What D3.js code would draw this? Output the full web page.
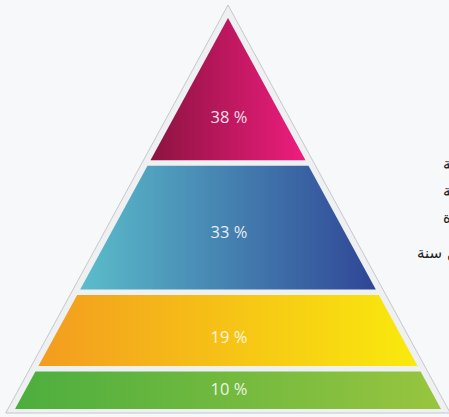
<!DOCTYPE html>
<html>
<head>
<meta charset="utf-8">
<script src="https://cdn.jsdelivr.net/npm/d3@7"></script>
<style>
  html, body { margin: 0; padding: 0; background: #f6f8fa; }
  svg { display: block; }
</style>
</head>
<body>
<svg id="chart"></svg>
<script>
const width = 449,
    height = 417;

// pyramid levels, top to bottom
const levels = ["l1", "l2", "l3", "l4"];
const values = [38, 33, 19, 10];
const valueLabels = ["38 %", "33 %", "19 %", "10 %"];
const gradientStops = [
    ["#8c1340", "#ee1d7e"],
    ["#5bbdcb", "#2f4696"],
    ["#f39c1f", "#f9ea0d"],
    ["#4cae3e", "#98c53f"],
];
// legend labels at the right, cut off by the edge of the picture
const legendLabels = ["خبرة عالية", "خبرة متوسطة", "خبرة محدودة", "أقل من سنة"];

const apex = { x: 228, y: 18 };
const baseY = 409;
const halfBase = 213;
const gap = 5.5;
const outerPad = 13;
// where the label sits inside each band (0 = top, 1 = bottom)
const labelPos = [0.70, 0.54, 0.59, 0.47];

const svg = d3.select("svg#chart")
    .attr("width", width)
    .attr("height", height);

const defs = svg.append("defs");
gradientStops.forEach((s, i) => {
    const grad = defs.append("linearGradient")
        .attr("id", "grad" + i)
        .attr("x1", "0%").attr("x2", "100%")
        .attr("y1", "0%").attr("y2", "0%");
    grad.append("stop").attr("offset", "0%").attr("stop-color", s[0]);
    grad.append("stop").attr("offset", "100%").attr("stop-color", s[1]);
});

// half width of the pyramid at a given y
const slope = halfBase / (baseY - apex.y);
const halfAt = y => (y - apex.y) * slope;

// outer light triangle with a thin grey edge
const oTop = apex.y - outerPad;
const oBot = baseY + 4;
const oHalf = (oBot - oTop) * slope;
svg.append("path")
    .attr("d", `M${apex.x},${oTop}L${apex.x + oHalf},${oBot}L${apex.x - oHalf},${oBot}Z`)
    .attr("fill", "#eef0f2")
    .attr("stroke", "#b9bcc0")
    .attr("stroke-width", 0.8);

// vertical scale: cumulative value -> y, leaving room for the gaps
const total = d3.sum(values);
const y = d3.scaleLinear()
    .domain([0, total])
    .range([apex.y, baseY - gap * (values.length - 1)]);

let cum = 0;
const bands = values.map((v, i) => {
    const top = y(cum) + gap * i;
    const bottom = y(cum + v) + gap * i;
    cum += v;
    return { i, v, top, bottom, label: valueLabels[i], level: levels[i] };
});

const g = svg.append("g");
const band = g.selectAll("g")
    .data(bands)
    .enter()
    .append("g")
    .classed("level", true);

band.append("path")
    .attr("d", d => {
        const ht = halfAt(d.top), hb = halfAt(d.bottom);
        return `M${apex.x - ht},${d.top}L${apex.x + ht},${d.top}L${apex.x + hb},${d.bottom}L${apex.x - hb},${d.bottom}Z`;
    })
    .attr("fill", d => `url(#grad${d.i})`);

band.append("text")
    .attr("x", apex.x + 1)
    .attr("y", d => d.top + (d.bottom - d.top) * labelPos[d.i])
    .attr("dy", "0.35em")
    .attr("text-anchor", "middle")
    .attr("font-family", "'Open Sans', sans-serif")
    .attr("font-size", 16.5)
    .attr("fill", "#ffffff")
    .attr("fill-opacity", 0.88)
    .text(d => d.label);

// legend text on the right (left end of each label at x)
const legendY = [169, 196, 223, 258];
const legendX = [443, 443, 443, 417];
svg.append("g")
    .selectAll("text")
    .data(legendLabels)
    .enter()
    .append("text")
    .attr("x", (d, i) => legendX[i])
    .attr("y", (d, i) => legendY[i])
    .attr("text-anchor", "start")
    .attr("font-family", "'DejaVu Sans', sans-serif")
    .attr("font-size", 15)
    .attr("fill", "#222")
    .text(d => d);
</script>
</body>
</html>
